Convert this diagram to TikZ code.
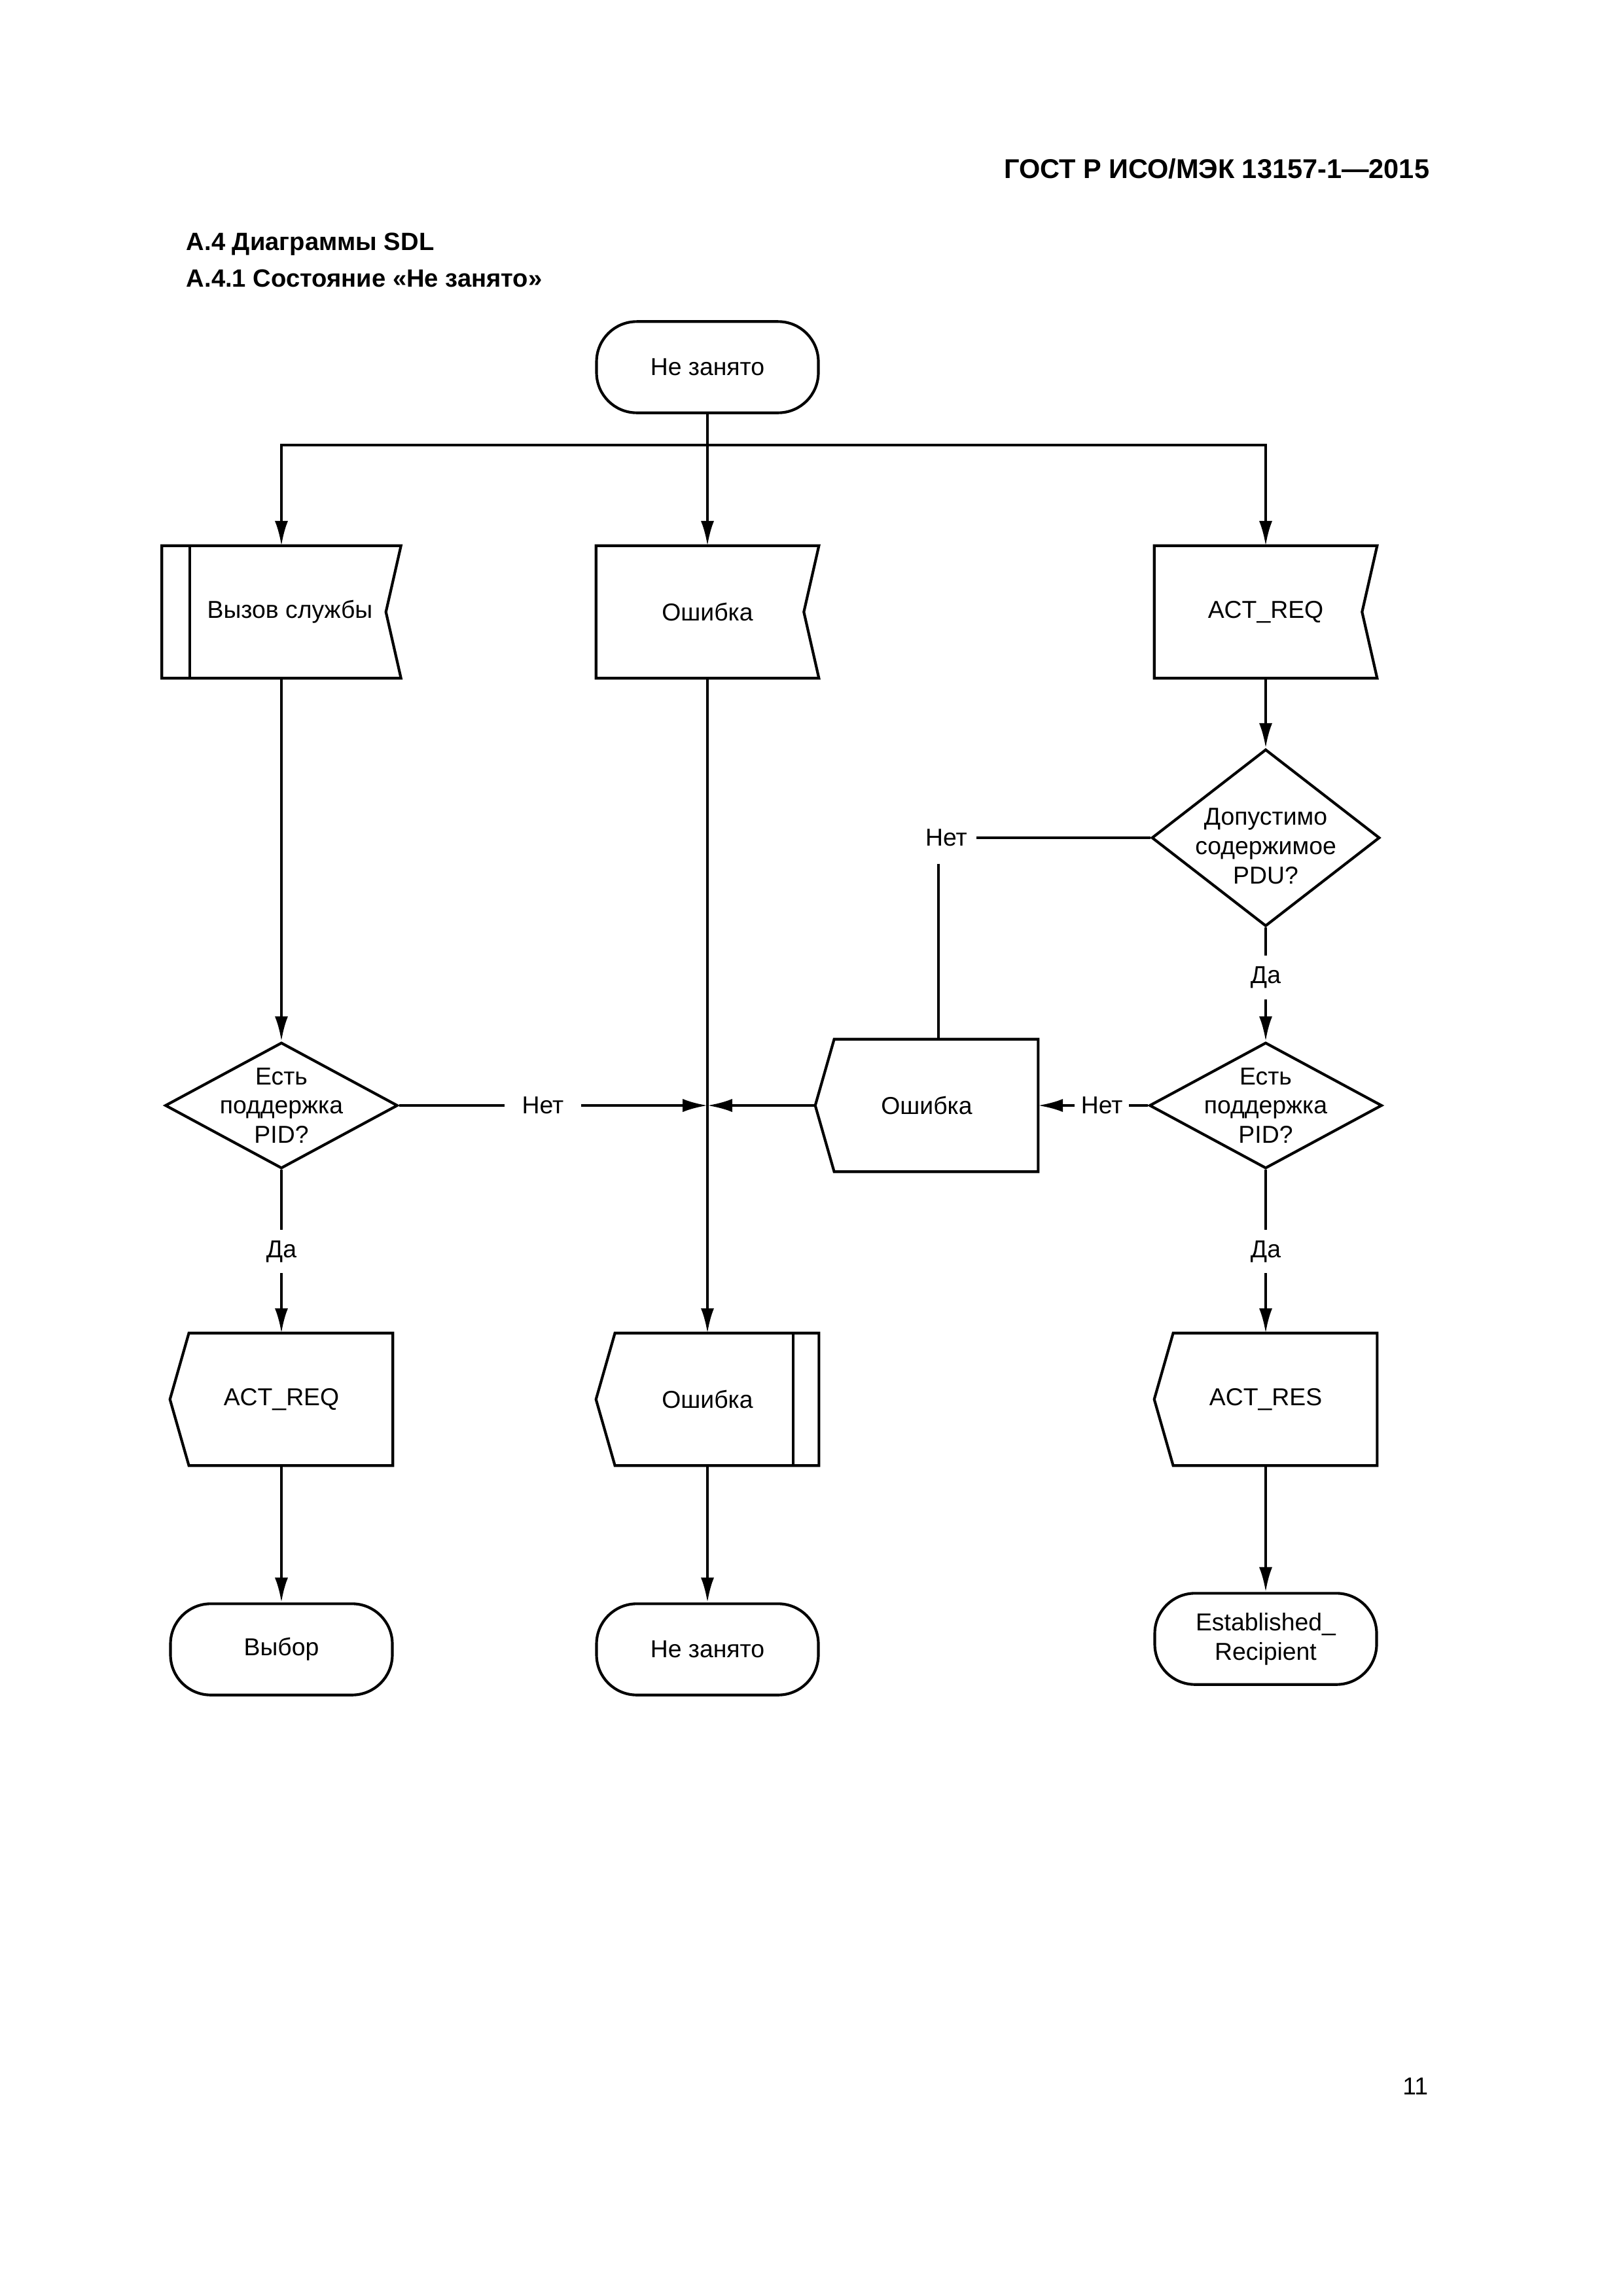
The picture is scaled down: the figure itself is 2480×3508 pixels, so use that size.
\documentclass[tikz,border=0pt]{standalone}
\usepackage{fontspec}
\setmainfont{Liberation Sans}
\usetikzlibrary{arrows.meta,shapes.geometric}
% контуры сигналов SDL
\newcommand\sigin[1]{\draw[line width=1pt] (#1.north west) -- (#1.north east) -- ([xshift=-1.95mm]#1.east) -- (#1.south east) -- (#1.south west) -- cycle;}
\newcommand\sigout[1]{\draw[line width=1pt] (#1.west) -- ([xshift=2.45mm]#1.north west) -- (#1.north east) -- (#1.south east) -- ([xshift=2.45mm]#1.south west) -- cycle;}
\begin{document}
\begin{tikzpicture}[x=0.0846774mm,y=-0.0846774mm,>={Latex[length=3.2mm,width=1.7mm]},
	font=\fontsize{9}{10.8}\selectfont, line join=miter,
	box/.style={draw,line width=1pt,inner sep=0pt,align=center},
	state/.style={box,rectangle,rounded corners=5.2mm,minimum width=28.7mm,minimum height=11.8mm},
	sig/.style={rectangle,inner sep=0pt,minimum width=28.7mm,minimum height=17mm},
	ask/.style={box,diamond,minimum width=30.1mm,minimum height=16.3mm},
	link/.style={line width=1pt},
	lbl/.style={fill=white,inner xsep=.8mm,inner ysep=1.4mm}]
	\def\xl{430} \def\xm{1081} \def\xr{1934} % столбцы
	\useasboundingbox (0,0) rectangle (2480,3508);
	% заголовки
	\node[anchor=base east,inner sep=0pt,font=\bfseries\fontsize{10}{12}\selectfont] (gost) at (2185,272) {ГОСТ Р ИСО/МЭК 13157-1—2015};
	\node[anchor=base west,inner sep=0pt,font=\bfseries\fontsize{9.2}{11}\selectfont] (sec) at (284,382) {А.4 Диаграммы SDL};
	\node[anchor=base west,inner sep=0pt,font=\bfseries\fontsize{9.2}{11}\selectfont] (subsec) at (284,438) {А.4.1 Состояние «Не занято»};
	\node[anchor=base east,inner sep=0pt,font=\fontsize{9}{11}\selectfont] (page) at (2183,3200) {11};
	% состояния и сигналы
	\node[state] (nz) at (\xm,561) {Не занято};
	\coordinate (bus) at (\xm,680);
	\node[sig,minimum width=30.8mm] (vs) at (\xl,935) {\hspace*{2.2mm}Вызов службы};
	\node[sig] (err1) at (\xm,935) {Ошибка};
	\node[sig] (ar) at (\xr,935) {ACT\_REQ};
	\node[ask,minimum width=29.5mm,minimum height=22.9mm,label={[align=center,yshift=-1.1mm]center:Допустимо\\содержимое\\PDU?}] (d2) at (\xr,1280) {};
	\node (no1) at (1446,1280) {Нет};
	\node[ask,label={[align=center]center:Есть\\поддержка\\PID?}] (d1) at (\xl,1689) {};
	\node[sig] (err2) at (1416,1689) {Ошибка};
	\node[ask,label={[align=center]center:Есть\\поддержка\\PID?}] (d3) at (\xr,1689) {};
	\node[sig] (out1) at (\xl,2138) {ACT\_REQ};
	\node[sig] (err3) at (\xm,2138) {Ошибка};
	\node[sig] (ars) at (\xr,2138) {ACT\_RES};
	\node[state] (t1) at (\xl,2520) {Выбор};
	\node[state] (t2) at (\xm,2520) {Не занято};
	\node[state] (t3) at (\xr,2504) {Established\_\\Recipient};
	\sigin{vs} \sigin{err1} \sigin{ar}
	\sigout{err2} \sigout{out1} \sigout{err3} \sigout{ars}
	% полосы
	\draw[line width=1pt] ([xshift=3.65mm]vs.north west) -- ([xshift=3.65mm]vs.south west);
	\draw[line width=1pt] ([xshift=-3.3mm]err3.north east) -- ([xshift=-3.3mm]err3.south east);
	% связи
	\draw[link,->] (nz.south) -- (err1.north);
	\draw[link,->] (bus) -| (vs.north);
	\draw[link,->] (bus) -| (ar.north);
	\draw[link,->] (vs.south) -- (d1.north);
	\draw[link,->] (d1.east) -- node[lbl,pos=.466,inner xsep=2.25mm]{Нет} (d1.east -| err1.south);
	\draw[link,->] (err2.west) -- (err2.west -| err1.south);
	\draw[link,->] (err1.south) -- (err3.north);
	\draw[link,->] (ar.south) -- (d2.north);
	\draw[link] (d2.west) -- (no1.east);
	\coordinate (k) at ([xshift=1.52mm]err2.north);
	\draw[link] ([yshift=-1mm]no1.south -| k) -- (k);
	\draw[link,->] (d2.south) -- node[lbl,pos=.44]{Да} (d3.north);
	\draw[link,->] (d3.west) -- node[lbl,pos=.42]{Нет} (err2.east);
	\draw[link,->] (d1.south) -- node[lbl]{Да} (out1.north);
	\draw[link,->] (d3.south) -- node[lbl]{Да} (ars.north);
	\draw[link,->] (out1.south) -- (t1.north);
	\draw[link,->] (err3.south) -- (t2.north);
	\draw[link,->] (ars.south) -- (t3.north);
\end{tikzpicture}
\end{document}
